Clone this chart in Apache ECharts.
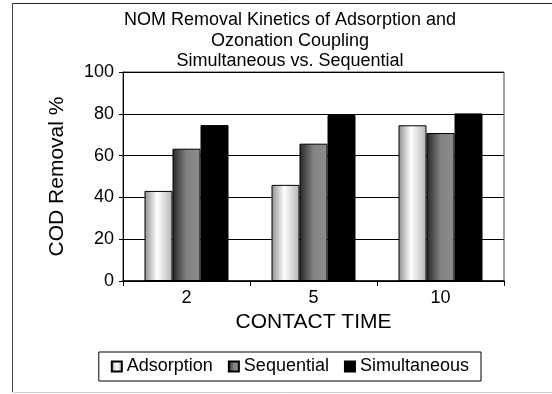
<!DOCTYPE html>
<html>
<head>
<meta charset="utf-8">
<script src="https://cdn.jsdelivr.net/npm/echarts@6/dist/echarts.min.js"></script>
<style>
html,body{margin:0;padding:0;background:#fff;}
#c{width:552px;height:394px;}
</style>
</head>
<body>
<div id="c"></div>
<script>
var categories = ['2', '5', '10'];
var adsorption = [43.1, 46.0, 74.5];
var sequential = [63.3, 65.7, 70.8];
var simultaneous = [74.6, 79.4, 80.2];
var yTicks = [0, 20, 40, 60, 80, 100];
var titleText = 'NOM Removal Kinetics of Adsorption and\nOzonation Coupling\nSimultaneous vs. Sequential';

var FONT = '"Liberation Sans", Arial, sans-serif';
function grad(stops){
  return new echarts.graphic.LinearGradient(0,0,1,0, stops);
}
var adsFill = grad([{offset:0,color:'#8e8e8e'},{offset:0.45,color:'#ffffff'},{offset:1,color:'#b4b4b4'}]);
var seqFill = grad([{offset:0,color:'#262626'},{offset:0.5,color:'#828282'},{offset:1,color:'#8c8c8c'}]);

var chart = echarts.init(document.getElementById('c'), null, {renderer:'canvas'});
chart.setOption({
  animation:false,
  backgroundColor:'#fff',
  title:{
    text:titleText,
    left:285, top:5, textAlign:'center',
    textStyle:{fontFamily:FONT, fontSize:18, fontWeight:'normal', color:'#000', lineHeight:20.5}
  },
  grid:{left:123, right:48, top:72, bottom:113, show:true, borderColor:'#444', borderWidth:1, backgroundColor:'transparent'},
  legend:{
    data:['Adsorption','Sequential','Simultaneous'],
    right:71, top:352,
    orient:'horizontal',
    padding:[5,12,5,12],
    itemGap:15, itemWidth:10, itemHeight:10, itemTextGap:4,
    borderColor:'#000', borderWidth:1,
    icon:'rect',
    textStyle:{fontFamily:FONT, fontSize:18, color:'#000', lineHeight:19}
  },
  xAxis:{
    type:'category', data:categories,
    name:'CONTACT TIME', nameLocation:'middle', nameGap:31,
    nameTextStyle:{fontFamily:FONT, fontSize:21, color:'#000'},
    axisLine:{lineStyle:{color:'#000', width:1.5}},
    axisTick:{show:true, inside:false, length:5, alignWithLabel:false, lineStyle:{color:'#000'}},
    axisLabel:{fontFamily:FONT, fontSize:18, color:'#000', margin:8},
    splitLine:{show:false}
  },
  yAxis:{
    type:'value', min:0, max:100, interval:20,
    name:'COD Removal %', nameLocation:'middle', nameGap:55, nameRotate:90,
    nameTextStyle:{fontFamily:FONT, fontSize:21, color:'#000'},
    axisLine:{show:true, lineStyle:{color:'#000', width:1}},
    axisTick:{show:true, inside:false, length:4, lineStyle:{color:'#000'}},
    axisLabel:{fontFamily:FONT, fontSize:18, color:'#000', margin:9,
      formatter:function(v){ return yTicks.indexOf(v) >= 0 ? String(v) : ''; }},
    splitLine:{show:true, lineStyle:{color:'#000', width:1}}
  },
  series:[
    {name:'Adsorption', type:'bar', data:adsorption, barWidth:28, barGap:'0%',
     itemStyle:{color:adsFill, borderColor:'#000', borderWidth:1}},
    {name:'Sequential', type:'bar', data:sequential, barWidth:28, barGap:'0%',
     itemStyle:{color:seqFill, borderColor:'#000', borderWidth:1}},
    {name:'Simultaneous', type:'bar', data:simultaneous, barWidth:28, barGap:'0%',
     itemStyle:{color:'#000', borderColor:'#000', borderWidth:1}}
  ],
  graphic:[
    {type:'line', shape:{x1:12.5, y1:3.5, x2:552, y2:3.5}, style:{stroke:'#222', lineWidth:1}, silent:true},
    {type:'line', shape:{x1:12.5, y1:3.5, x2:12.5, y2:392}, style:{stroke:'#444', lineWidth:1}, silent:true},
    {type:'line', shape:{x1:12.5, y1:392.5, x2:552, y2:392.5}, style:{stroke:'#cfcfcf', lineWidth:1}, silent:true}
  ]
});
</script>
</body>
</html>
